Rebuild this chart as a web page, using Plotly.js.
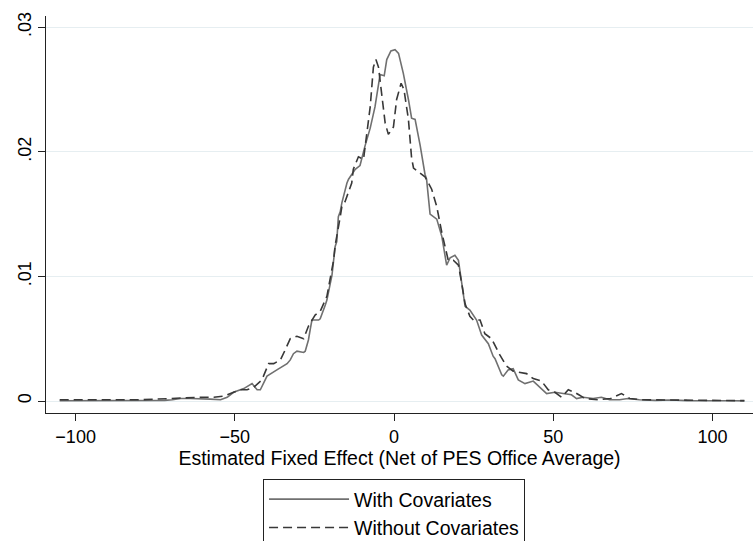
<!DOCTYPE html>
<html>
<head>
<meta charset="utf-8">
<script src="https://cdn.plot.ly/plotly-3.0.1.min.js"></script>
<style>
  html, body { margin: 0; padding: 0; background: #fff; }
  #plot { width: 753px; height: 541px; }
</style>
</head>
<body>
<div id="plot"></div>
<script>
// Kernel density of estimated fixed effects
var withX = [-105, -100, -95, -90, -85, -80, -75, -72, -69.6, -67, -64, -61, -57.7, -54.5, -52.4,
  -50.4, -47.2, -44.6, -43, -42, -39.9, -36.8, -33.6, -32.6, -31.6, -30.5, -28.4, -27.9, -26.9,
  -26.3, -25.8, -23.7, -23.2, -21.6, -21.1, -19.5, -18.5, -18, -17.5, -16.9, -16.4, -14.8, -14.3,
  -12.2, -10.7, -9.1, -7.5, -6, -4.4, -3.1, -2.3, -1, 0.3, 1.4, 2.9, 4.5, 5.5, 6.6, 8.2, 9.7,
  10.2, 11.3, 13.4, 15, 16.5, 17.6, 19.1, 20.2, 21.2, 22.3, 23.8, 25.9, 27.5, 29.1, 29.6, 31.1,
  31.7, 33.8, 34.3, 35.8, 37.4, 39, 41.1, 43.7, 46.3, 47.9, 50.5, 53.1, 55.7, 57.3, 59.3, 62.5,
  65.1, 67.7, 70.8, 73.4, 77, 82, 87, 92, 97, 102, 107, 110];
var withY = [0.00002, 0.00002, 0.00003, 0.00002, 0.00004, 0.00005, 0.00008, 0.00005, 0.0001, 0.0002,
  0.0002, 0.0002, 0.00015, 0.0001, 0.0003, 0.0007, 0.0010, 0.0014, 0.0009, 0.0009, 0.0020, 0.0025,
  0.0030, 0.0033, 0.0038, 0.0040, 0.0039, 0.0040, 0.0049, 0.0058, 0.0065, 0.0065, 0.0066, 0.0077,
  0.0081, 0.0101, 0.0124, 0.0128, 0.0148, 0.0152, 0.0159, 0.0175, 0.0178, 0.0186, 0.0189, 0.0205,
  0.0219, 0.0236, 0.0262, 0.0261, 0.0274, 0.0281, 0.0282, 0.0279, 0.0263, 0.0242, 0.0227, 0.0226,
  0.0205, 0.0182, 0.0178, 0.0150, 0.0146, 0.0132, 0.0109, 0.0115, 0.0117, 0.0113, 0.0097, 0.0076,
  0.0073, 0.0065, 0.0053, 0.0048, 0.0046, 0.0036, 0.0034, 0.0021, 0.0020, 0.0025, 0.0026, 0.0017,
  0.0014, 0.0016, 0.0010, 0.0006, 0.0007, 0.0006, 0.0005, 0.0002, 0.0003, 0.0002, 0.0003, 0.0001,
  0.0001, 0.0002, 0.0001, 0.00005, 0.00008, 0.00003, 0.00005, 0.00002, 0.00002, 0.00001];

var withoutX = [-105, -100, -95, -90, -85, -80, -75, -70, -65.5, -61.4, -56.6, -53.5, -50.4, -48.3,
  -46.2, -44.1, -41.5, -39.4, -37.8, -35.7, -34.2, -32.6, -30.5, -28.4, -26.9, -24.8, -23.2, -21.1,
  -19, -18.5, -16.9, -16.4, -15.4, -14.8, -13.3, -12.8, -11.2, -9.6, -8.6, -7.5, -6.5, -5.7, -4.9,
  -3.9, -2.8, -1.8, -0.2, 0.8, 2.2, 3.1, 4.5, 5.5, 6.1, 7.6, 9.7, 11.8, 13.4, 15, 16, 17, 18.6,
  20.2, 21.2, 22.3, 23.8, 24.9, 27, 28.5, 30.6, 32.7, 33.2, 35.3, 37.4, 41.6, 43.7, 46.3, 48.4,
  50.5, 52.6, 54.7, 56.7, 58, 60, 64, 68, 71.4, 74, 78, 85, 90, 95, 100, 105, 110];
var withoutY = [0.0001, 0.0001, 0.00008, 0.0001, 0.00012, 0.0001, 0.00015, 0.0002, 0.0003, 0.0003,
  0.0003, 0.0004, 0.0007, 0.0009, 0.0009, 0.0011, 0.0017, 0.0030, 0.0030, 0.0033, 0.0041, 0.0050,
  0.0052, 0.0050, 0.0060, 0.0069, 0.0072, 0.0084, 0.0113, 0.0125, 0.0148, 0.0156, 0.0160, 0.0164,
  0.0175, 0.0186, 0.0196, 0.0194, 0.0212, 0.0236, 0.0268, 0.0274, 0.0268, 0.0247, 0.0223, 0.0214,
  0.0220, 0.0242, 0.0255, 0.0250, 0.0226, 0.0195, 0.0187, 0.0184, 0.0180, 0.0170, 0.0156, 0.0135,
  0.0124, 0.0113, 0.0113, 0.0109, 0.0095, 0.0078, 0.0068, 0.0065, 0.0065, 0.0054, 0.0050, 0.0039,
  0.0037, 0.0028, 0.0024, 0.0022, 0.0018, 0.0016, 0.0009, 0.0007, 0.0003, 0.0009, 0.0007, 0.0005,
  0.0002, 0.0001, 0.0002, 0.0006, 0.0002, 0.0001, 0.00008, 0.0001, 0.00005, 0.00008, 0.00005, 0.00003];

var xTicks = [-100, -50, 0, 50, 100];
var yTicks = [0, 0.01, 0.02, 0.03];
var yTickText = ['0', '.01', '.02', '.03'];

var withCov = {
  x: withX,
  y: withY,
  mode: 'lines',
  name: 'With Covariates',
  type: 'scatter',
  line: { color: '#707070', width: 1.6 }
};

var withoutCov = {
  x: withoutX,
  y: withoutY,
  mode: 'lines',
  name: 'Without Covariates',
  type: 'scatter',
  line: { color: '#383838', width: 1.6, dash: '9px,5px' }
};

var data = [withCov, withoutCov];

var layout = {
  width: 753,
  height: 541,
  margin: { l: 46, r: 0, t: 16, b: 128, autoexpand: false },
  paper_bgcolor: '#fff',
  plot_bgcolor: '#fff',
  font: { family: 'Liberation Sans, Arial, sans-serif', size: 18, color: '#000' },
  showlegend: true,
  xaxis: {
    range: [-109.3, 112.7],
    tickvals: xTicks,
    ticks: 'outside',
    ticklen: 7,
    tickcolor: '#222',
    showline: true,
    linecolor: '#222',
    linewidth: 1,
    showgrid: false,
    zeroline: false,
    automargin: false,
    tickfont: { size: 18 },
    title: { text: 'Estimated Fixed Effect (Net of PES Office Average)', font: { size: 19.5 }, standoff: 2 }
  },
  yaxis: {
    range: [-0.00096, 0.0309],
    tickvals: yTicks,
    ticktext: yTickText,
    tickangle: -90,
    ticks: 'outside',
    ticklen: 7,
    tickcolor: '#222',
    showline: true,
    linecolor: '#222',
    linewidth: 1,
    showgrid: true,
    gridcolor: '#e6eef1',
    zeroline: false,
    automargin: false,
    tickfont: { size: 18 }
  },
  legend: {
    x: 0.307,
    y: -0.166,
    xanchor: 'left',
    yanchor: 'top',
    bordercolor: '#222',
    borderwidth: 1,
    bgcolor: '#fff',
    font: { size: 19.5 },
    itemwidth: 80,
    tracegroupgap: 0
  }
};

Plotly.newPlot('plot', data, layout, { displayModeBar: false, staticPlot: true });
</script>
</body>
</html>
